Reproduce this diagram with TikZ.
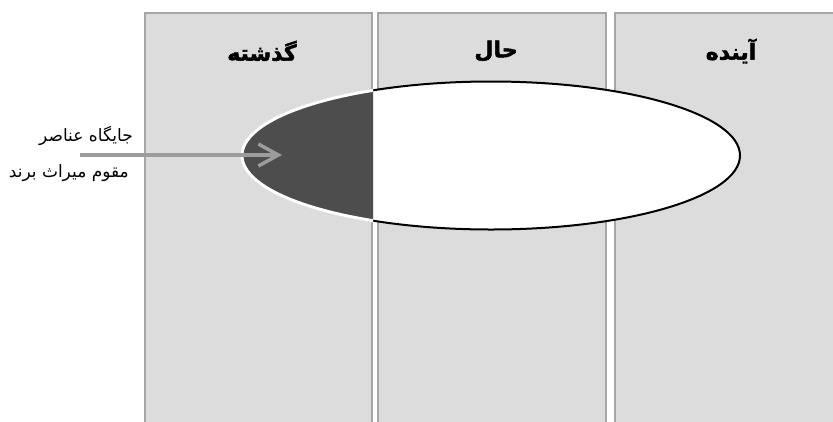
\documentclass[tikz,border=0pt]{standalone}
\usepackage{fontspec}
\TeXXeTstate=1
\newfontfamily\arabicfont[Script=Arabic]{DejaVu Sans}
\newfontfamily\arabicheadfont[Script=Arabic, FakeBold=2]{DejaVu Sans Bold}
\usetikzlibrary{arrows.meta, positioning, shapes.geometric}

\definecolor{colfill}{HTML}{DCDCDC}
\definecolor{colline}{HTML}{A6A6A6}
\definecolor{darkpart}{HTML}{4D4D4D}
\definecolor{arrgray}{HTML}{9C9C9C}

\begin{document}
\begin{tikzpicture}[x=1pt, y=-1pt,
  column/.style={draw=colline, fill=colfill, line width=2pt, anchor=north west,
                 minimum height=440pt, inner sep=0pt, outer sep=0pt},
  head/.style={font=\arabicheadfont\fontsize{22}{26}\selectfont},
  lbl/.style={font=\arabicfont\fontsize{17}{20}\selectfont, anchor=east, inner sep=0pt},
  arr/.style={-{Straight Barb[length=20pt, width=22pt]}, line width=3.5pt, draw=arrgray}
]
  \useasboundingbox (0,0) rectangle (833,421);
  \clip (0,0) rectangle (833,421);

  % three periods
  \node[column, minimum width=227pt] (colpast)    at (145,13) {};
  \node[column, minimum width=228pt] (colpresent) at (378,13) {};
  \node[column, minimum width=240pt] (colfuture)  at (615,13) {};

  \node[head] (past)    at (262,51) {\beginR گذشته\endR};
  \node[head] (present) at (496,51) {\beginR حال\endR};
  \node[head] (future)  at (731,51) {\beginR آینده\endR};

  % brand ellipse, dark left part
  \node[ellipse, draw, fill=white, line width=2pt, minimum width=498pt,
        minimum height=148pt, inner sep=0pt] (brand) at (491,155.5) {};
  \begin{scope}
    \clip (0,0) rectangle (373,421);
    \fill[darkpart, draw=white, line width=3pt] (brand.center)
      ellipse [x radius=249, y radius=74];
  \end{scope}

  \node[lbl] (place)    at (133,136) {\beginR جایگاه عناصر\endR};
  \node[lbl] (heritage) at (129,173) {\beginR مقوم میراث برند\endR};

  \coordinate (arrtail) at (80,155);
  \coordinate (arrtip)  at (282,155);
  \draw[arr] (arrtail) -- (arrtip);
\end{tikzpicture}
\end{document}
